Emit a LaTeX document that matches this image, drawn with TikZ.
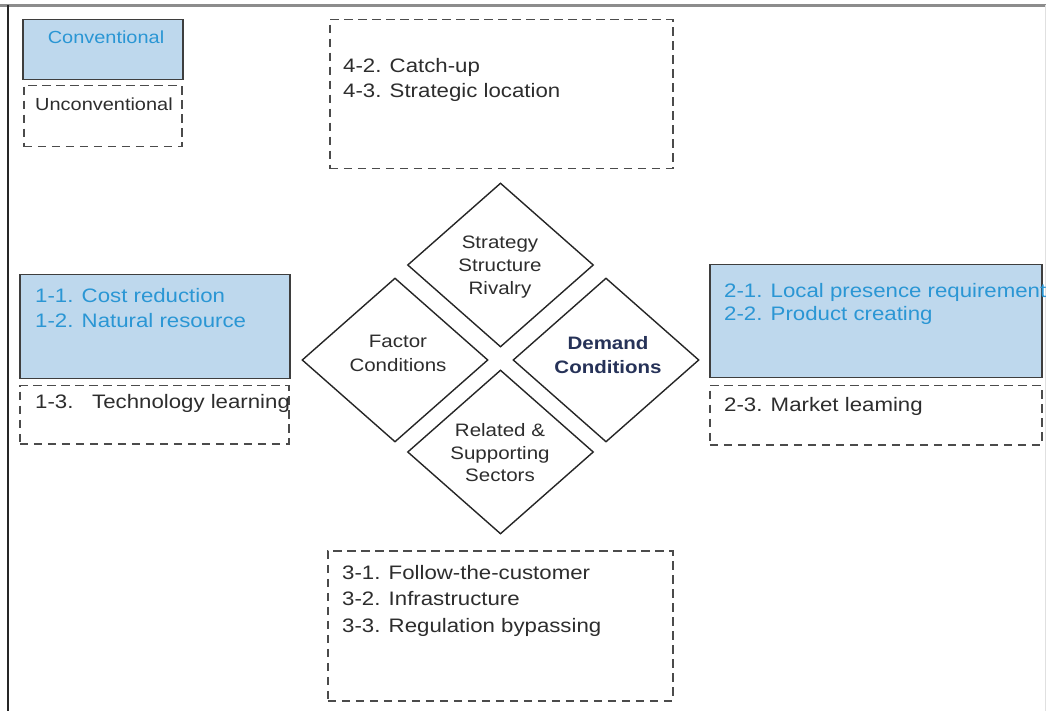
\documentclass[tikz,border=0pt]{standalone}
\usepackage{fontspec}
\setmainfont[FakeStretch=1.14]{Liberation Sans}
\usetikzlibrary{shapes.geometric}
\definecolor{boxblue}{RGB}{190,216,237}
\definecolor{txtblue}{RGB}{42,150,212}
\definecolor{txtdark}{RGB}{45,45,45}
\definecolor{navytxt}{RGB}{38,50,88}
\definecolor{edgegray}{RGB}{62,62,62}
\definecolor{dashgray}{RGB}{75,75,75}
\begin{document}
\begin{tikzpicture}[x=1pt,y=-1pt,
  solidbox/.style={draw=edgegray, line width=1.5pt, fill=boxblue, inner sep=0pt, anchor=north west},
  dashbox/.style={draw=dashgray, line width=1.5pt, dash pattern=on 8.5pt off 5.5pt, inner sep=0pt, anchor=north west},
  dia/.style={draw=black!85, line width=1.4pt, diamond, inner sep=0pt, minimum width=186pt, minimum height=164pt},
  boxtxt/.style={inner sep=0pt, anchor=north west, align=left, text=txtdark},
  diatxt/.style={inner sep=0pt, anchor=north, align=center, text=txtdark, font=\fontsize{18}{23}\selectfont},
  legtxt/.style={inner sep=0pt, font=\fontsize{17.5}{21}\selectfont}
]
\useasboundingbox (0,0) rectangle (1050,711);
\fill[white] (0,0) rectangle (1050,711);
% frame
\draw[line width=2.2pt, black!45] (0,5.5) -- (1046,5.5);
\draw[line width=2pt, black!85] (7.5,5) -- (7.5,711);
\draw[line width=1pt, black!12] (1045,5) -- (1045,711);

% legend
\node[solidbox, minimum width=160pt, minimum height=60pt] (conv) at (22,19) {};
\node[legtxt, anchor=north, text=txtblue] (convt) at (106,30.5) {Conventional};
\node[dashbox, minimum width=158pt, minimum height=61pt] (unconv) at (23,85) {};
\node[legtxt, anchor=north west, text=txtdark] (unconvt) at (35,97.5) {Unconventional};

% top box
\node[dashbox, minimum width=343pt, minimum height=149pt] (topbox) at (329,19) {};
\node[boxtxt, font=\fontsize{19.5}{25}\selectfont] (topt) at (343,57.7) {4-2. Catch-up\\4-3. Strategic location};

% left boxes
\node[solidbox, minimum width=270pt, minimum height=104pt] (lblue) at (19,274) {};
\node[boxtxt, text=txtblue, font=\fontsize{19.5}{25}\selectfont] (lbluet) at (35,287.7) {1-1. Cost reduction\\1-2. Natural resource};
\node[dashbox, minimum width=269pt, minimum height=58pt] (ldash) at (19,385) {};
\node[boxtxt, font=\fontsize{19.5}{25}\selectfont] (ldasht) at (35,393.7) {\makebox[57pt][l]{1-3.}Technology learning};

% right boxes
\node[solidbox, minimum width=332pt, minimum height=113pt] (rblue) at (709,264) {};
\node[boxtxt, text=txtblue, font=\fontsize{19.5}{23}\selectfont] (rbluet) at (724,282.7) {2-1. Local presence requirement\\2-2. Product creating};
\node[dashbox, minimum width=332pt, minimum height=59pt] (rdash) at (709,385) {};
\node[boxtxt, font=\fontsize{19.5}{25}\selectfont] (rdasht) at (724,396.7) {2-3. Market leaming};

% bottom box
\node[dashbox, minimum width=345pt, minimum height=150pt] (botbox) at (327,550) {};
\node[boxtxt, font=\fontsize{19.5}{26.5}\selectfont] (bott) at (342,564.7) {3-1. Follow-the-customer\\3-2. Infrastructure\\3-3. Regulation bypassing};

% diamonds
\node[dia] (ssr) at (500.5,265) {};
\node[dia] (fac) at (395,360) {};
\node[dia] (dem) at (606,360) {};
\node[dia] (rel) at (500.5,452) {};
\node[diatxt] (ssrt) at (500,235.3) {Strategy\\Structure\\Rivalry};
\node[diatxt, font=\fontsize{18}{24}\selectfont] (fact) at (398,335.3) {Factor\\Conditions};
\node[diatxt, text=navytxt, font=\fontsize{18}{24}\bfseries\selectfont] (demt) at (608,336.3) {Demand\\Conditions};
\node[diatxt, font=\fontsize{18}{22.5}\selectfont] (relt) at (500,423.3) {Related \&\\Supporting\\Sectors};
\end{tikzpicture}
\end{document}
